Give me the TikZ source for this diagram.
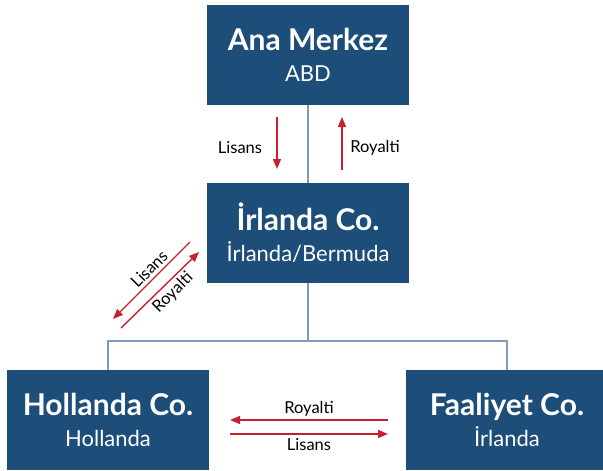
\documentclass[tikz,border=0pt]{standalone}
\usepackage{fontspec}
\setmainfont{Lato}
\usetikzlibrary{arrows.meta,positioning}
\definecolor{boxblue}{HTML}{1D4E79}
\definecolor{linkblue}{HTML}{7F9CBB}
\definecolor{flowred}{HTML}{C8202F}
\newcommand{\unitlines}[2]{{\fontsize{30}{31}\selectfont\bfseries #1}\\#2}

\begin{document}
\begin{tikzpicture}[x=1pt,y=-1pt,>={Triangle[length=10pt,width=8pt]}]
  \tikzstyle{unit}=[fill=boxblue,text=white,align=center,minimum width=202pt,minimum height=100pt,inner sep=0pt,font=\fontsize{22}{31}\selectfont]
  \tikzstyle{link}=[draw=linkblue,line width=1.2pt]
  \tikzstyle{flow}=[->,draw=flowred,line width=1.4pt]
  \tikzstyle{tag}=[font=\fontsize{16.5}{18}\selectfont,inner sep=1pt]
  \useasboundingbox (0,0) rectangle (603,471);
  \node[unit] (hq) at (308,54.5) {\unitlines{Ana Merkez}{ABD}};
  \node[unit] (irl) at (308,233) {\unitlines{İrlanda Co.}{İrlanda/Bermuda}};
  \node[unit] (nl) at (108,420) {\unitlines{Hollanda Co.}{Hollanda}};
  \node[unit] (ops) at (507,420) {\unitlines{Faaliyet Co.}{İrlanda}};
  % org lines
  \coordinate (split) at (308,341);
  \draw[link] (hq) -- (irl);
  \draw[link] (irl) -- (split);
  \draw[link] (split) -| (nl.north);
  \draw[link] (split) -| (ops.north);
  % licence / royalty flows
  \coordinate (hqL1) at (277,117);
  \coordinate (hqL2) at (277,169);
  \coordinate (hqR1) at (342,170);
  \coordinate (hqR2) at (342,117);
  \draw[flow] (hqL1) -- (hqL2);
  \draw[flow] (hqR1) -- (hqR2);
  \node[tag] (hqLt) at (240,148) {Lisans};
  \node[tag] (hqRt) at (375,148) {Royalti};
  \coordinate (nlL1) at (190,242);
  \coordinate (nlL2) at (113,319);
  \coordinate (nlR1) at (121,328);
  \coordinate (nlR2) at (199,252);
  \draw[flow] (nlL1) -- (nlL2);
  \draw[flow] (nlR1) -- (nlR2);
  \node[tag,rotate=45] (nlLt) at (149,269) {Lisans};
  \node[tag,rotate=45] (nlRt) at (173,293) {Royalti};
  \coordinate (opsR1) at (388,420);
  \coordinate (opsR2) at (230,420);
  \coordinate (opsL1) at (230,434);
  \coordinate (opsL2) at (388,434);
  \draw[flow] (opsR1) -- (opsR2);
  \draw[flow] (opsL1) -- (opsL2);
  \node[tag] (opsRt) at (309,409) {Royalti};
  \node[tag] (opsLt) at (309,445) {Lisans};
\end{tikzpicture}
\end{document}
